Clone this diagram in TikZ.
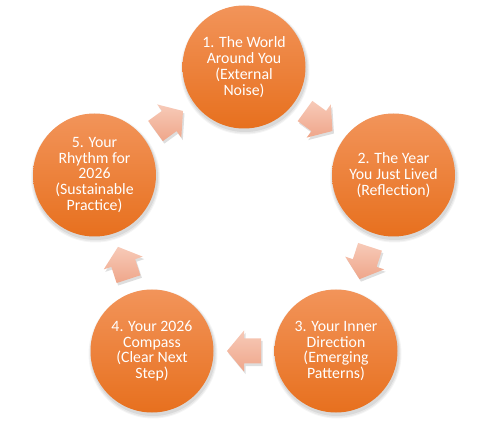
\documentclass[tikz,border=0pt]{standalone}
\usepackage{fontspec}
\setmainfont{Carlito}
\usetikzlibrary{calc}
\definecolor{orTop}{RGB}{242,148,90}
\definecolor{orBot}{RGB}{231,112,30}
\definecolor{arTop}{RGB}{247,202,184}
\definecolor{arBot}{RGB}{239,166,138}
\tikzset{
  stage/.style={circle, minimum size=123pt, inner sep=0pt, top color=orTop, bottom color=orBot,
    text=white, align=center, font=\fontsize{15.8}{15.8}\selectfont},
  cyclearrow/.style={top color=arTop, bottom color=arBot},
  arrowshadow/.style={fill=black, opacity=0.13},
}
\newcommand\stageshadow[1]{%
  \fill[black,opacity=0.04] ($(#1)+(1,-3)$) circle (64.5);
  \fill[black,opacity=0.05] ($(#1)+(1,-3)$) circle (63.5);
  \fill[black,opacity=0.07] ($(#1)+(1,-2.5)$) circle (62.5);
}
\newcommand\cyclearrowdraw[3]{%
  \begin{scope}[shift={($(#1)!0.5!(#2)+(1.5,-2.5)$)}, rotate=#3]
    \fill[arrowshadow] (-17,-12.5) -- (0,-12.5) -- (0,-20.5) -- (17,0) -- (0,20.5) -- (0,12.5) -- (-17,12.5) -- cycle;
  \end{scope}
  \begin{scope}[shift={($(#1)!0.5!(#2)$)}, rotate=#3]
    \path[cyclearrow] (-17,-12.5) -- (0,-12.5) -- (0,-20.5) -- (17,0) -- (0,20.5) -- (0,12.5) -- (-17,12.5) -- cycle;
  \end{scope}
}
\begin{document}
\begin{tikzpicture}[x=1pt,y=1pt]
\useasboundingbox (0,0) rectangle (487,423);
\coordinate (p1) at (244,356);
\coordinate (p2) at (393.5,248);
\coordinate (p3) at (336,72);
\coordinate (p4) at (152,72);
\coordinate (p5) at (94.5,248);
\stageshadow{p1}\stageshadow{p2}\stageshadow{p3}\stageshadow{p4}\stageshadow{p5}
\node[stage] (n1) at (p1) {1. The World\\Around You\\(External\\Noise)};
\node[stage] (n2) at (p2) {2. The Year\\You Just Lived\\(Reflection)};
\node[stage] (n3) at (p3) {3. Your Inner\\Direction\\(Emerging\\Patterns)};
\node[stage] (n4) at (p4) {4. Your 2026\\Compass\\(Clear Next\\Step)};
\node[stage] (n5) at (p5) {5. Your\\Rhythm for\\2026\\(Sustainable\\Practice)};
\cyclearrowdraw{n1}{n2}{-36}
\cyclearrowdraw{n2}{n3}{-108}
\cyclearrowdraw{n3}{n4}{180}
\cyclearrowdraw{n4}{n5}{108}
\cyclearrowdraw{n5}{n1}{36}
\end{tikzpicture}
\end{document}
